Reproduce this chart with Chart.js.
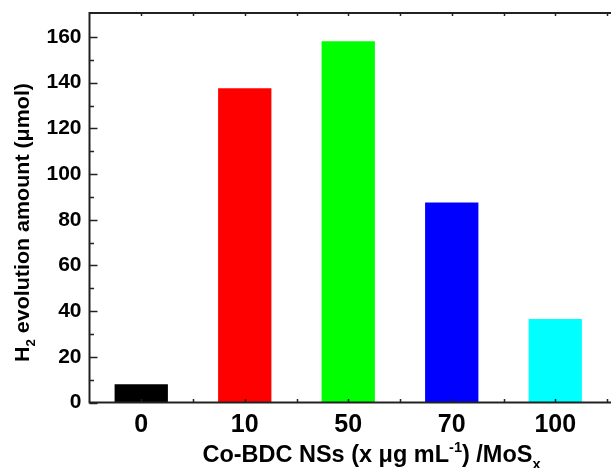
<!DOCTYPE html>
<html>
<head>
<meta charset="utf-8">
<script src="https://cdn.jsdelivr.net/npm/chart.js@4.4.0/dist/chart.umd.min.js"></script>
<style>
  html, body { margin: 0; padding: 0; background: #fff; }
  #wrap { width: 611px; height: 468px; }
</style>
</head>
<body>
<div id="wrap"><canvas id="h2Chart" width="611" height="468"></canvas></div>
<script>
// loading (ug/mL) of Co-BDC nanosheets and H2 evolved (umol)
const loadings = ['0', '10', '50', '70', '100'];
const h2Amount = [8.0, 137.6, 158.1, 87.6, 36.6];
const barColors = ['#000000', '#ff0000', '#00ff00', '#0000ff', '#00ffff'];
const yTicks = [0, 20, 40, 60, 80, 100, 120, 140, 160];
const yMinorTicks = [10, 30, 50, 70, 90, 110, 130, 150, 170];

const FONT = '"Liberation Sans", Arial, sans-serif';
const AXIS_COLOR = '#222';

function partSize(p, size) {
    return p.sub || p.sup ? size * 0.62 : size;
}

function richWidth(ctx, parts, size) {
    let w = 0;
    parts.forEach(p => {
        ctx.font = 'bold ' + partSize(p, size) + 'px ' + FONT;
        w += ctx.measureText(p.t).width;
    });
    return w;
}

// draws text pieces with sub/superscripts from (x, y) on the baseline,
// squeezed or stretched horizontally to the given length
function drawRich(ctx, parts, x, y, size, length) {
    const k = length / richWidth(ctx, parts, size);
    ctx.save();
    ctx.translate(x, y);
    ctx.scale(k, 1);
    let cx = 0;
    parts.forEach(p => {
        ctx.font = 'bold ' + partSize(p, size) + 'px ' + FONT;
        let dy = 0;
        if (p.sub) dy = size * 0.3;
        if (p.sup) dy = -size * 0.42;
        ctx.fillText(p.t, cx, dy);
        cx += ctx.measureText(p.t).width;
    });
    ctx.restore();
}

const xTitle = [{ t: 'Co-BDC NSs (x \u03bcg mL' }, { t: '-1', sup: true }, { t: ') /MoS' }, { t: 'x', sub: true }];
const yTitle = [{ t: 'H' }, { t: '2', sub: true }, { t: ' evolution amount (\u03bcmol)' }];

// frame, inward ticks and the two axis titles
const framePlugin = {
    id: 'frame',
    afterDraw(chart) {
        const ctx = chart.ctx;
        const area = chart.chartArea;
        const xs = chart.scales.x;
        const ys = chart.scales.y;
        ctx.save();
        ctx.strokeStyle = AXIS_COLOR;
        ctx.lineWidth = 2;
        ctx.beginPath();
        ctx.moveTo(area.left, area.top);
        ctx.lineTo(chart.width, area.top);
        ctx.moveTo(area.left, area.bottom);
        ctx.lineTo(chart.width, area.bottom);
        ctx.moveTo(area.left, area.top - 1);
        ctx.lineTo(area.left, area.bottom + 1);
        ctx.stroke();

        ctx.lineWidth = 1.5;
        ctx.beginPath();
        yTicks.forEach(v => {
            const py = Math.round(ys.getPixelForValue(v)) + 0.5;
            ctx.moveTo(area.left, py);
            ctx.lineTo(area.left + 8, py);
        });
        yMinorTicks.forEach(v => {
            const py = Math.round(ys.getPixelForValue(v)) + 0.5;
            if (py < area.top + 2) return;
            ctx.moveTo(area.left, py);
            ctx.lineTo(area.left + 4.5, py);
        });
        // category centres and boundaries on bottom and top
        for (let i = 0; i <= loadings.length * 2; i++) {
            const px = Math.round(xs.getPixelForValue(i / 2 - 0.5)) + 0.5;
            if (px <= area.left + 2) continue;
            ctx.moveTo(px, area.bottom);
            ctx.lineTo(px, area.bottom - 3.5);
            ctx.moveTo(px, area.top);
            ctx.lineTo(px, area.top + 3);
        }
        ctx.stroke();

        ctx.fillStyle = '#000';
        ctx.textBaseline = 'alphabetic';
        ctx.textAlign = 'left';
        drawRich(ctx, xTitle, 202.5, 462, 23, 338);

        ctx.translate(28.5, 362);
        ctx.rotate(-Math.PI / 2);
        drawRich(ctx, yTitle, 0, 0, 21, 279);
        ctx.restore();
    }
};

new Chart(document.getElementById('h2Chart'), {
    type: 'bar',
    data: {
        labels: loadings,
        datasets: [{
            data: h2Amount,
            backgroundColor: barColors,
            borderWidth: 0,
            barPercentage: 0.515,
            categoryPercentage: 1.0
        }]
    },
    options: {
        responsive: false,
        animation: false,
        layout: { padding: { top: 13, right: 4, left: 0, bottom: 0 } },
        plugins: {
            legend: { display: false },
            tooltip: { enabled: false }
        },
        scales: {
            x: {
                grid: { display: false, drawTicks: false },
                border: { display: false },
                ticks: {
                    color: '#000',
                    padding: 8,
                    font: { family: FONT, size: 25, weight: 'bold' }
                },
                afterFit(scale) {
                    scale.height = 65.5;
                    scale.paddingLeft = 0;
                    scale.paddingRight = 0;
                }
            },
            y: {
                min: 0,
                max: 170.5,
                grid: { display: false, drawTicks: false },
                border: { display: false },
                ticks: {
                    color: '#000',
                    padding: 8,
                    font: { family: FONT, size: 21, weight: 'bold' }
                },
                afterBuildTicks(scale) {
                    scale.ticks = yTicks.map(v => ({ value: v }));
                },
                afterFit(scale) {
                    scale.width = 89.5;
                    scale.paddingTop = 0;
                    scale.paddingBottom = 0;
                }
            }
        }
    },
    plugins: [framePlugin]
});
</script>
</body>
</html>
